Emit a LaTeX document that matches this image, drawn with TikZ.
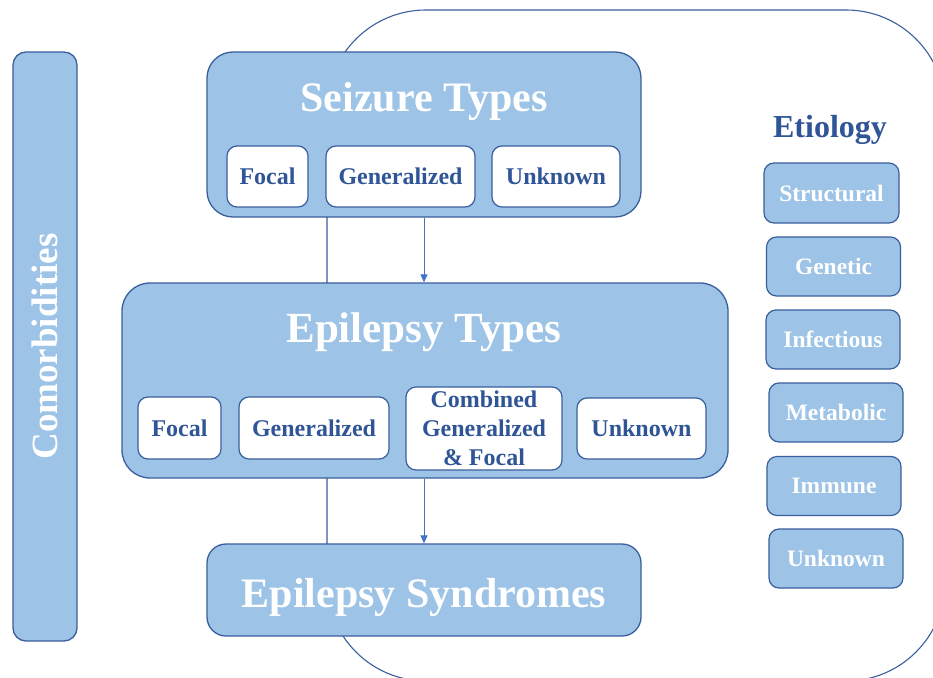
\documentclass[tikz,border=0pt]{standalone}
\usepackage{fontspec}
\setmainfont{Liberation Serif}
\usetikzlibrary{arrows.meta}

\definecolor{boxfill}{HTML}{9DC3E6}
\definecolor{boxline}{HTML}{3A5F9E}
\definecolor{darkblue}{HTML}{2F5597}
\definecolor{arrowblue}{HTML}{4472C4}

\tikzset{
  panel/.style={draw=boxline, line width=1.3pt, fill=boxfill, inner sep=0pt,
                rounded corners=#1},
  subbox/.style={draw=boxline, line width=1.2pt, fill=white, inner sep=0pt,
                 rounded corners=10pt, text=darkblue,
                 font=\fontsize{24}{29}\selectfont\bfseries, align=center},
  etiobox/.style={draw=boxline, line width=1.2pt, fill=boxfill, inner sep=0pt,
                  rounded corners=10pt, text=white,
                  minimum width=134pt, minimum height=59pt,
                  font=\fontsize{23.5}{28}\selectfont\bfseries},
  bigtitle/.style={text=white, inner sep=0pt, anchor=base,
                   font=\fontsize{43}{48}\selectfont\bfseries},
  frameline/.style={draw=boxline, line width=1.1pt, rounded corners=99pt},
  arrowlink/.style={draw=arrowblue, line width=1pt,
                    -{Triangle[width=7pt,length=8pt]}}
}

\begin{document}
\begin{tikzpicture}[x=1pt, y=-1pt]
  \useasboundingbox (0,0) rectangle (933,677);
  \clip (0,0) rectangle (933,677);
  \fill[white] (0,0) rectangle (933,677);

  % large rounded frame behind everything
  \draw[frameline] (327,10) rectangle (945,681);

  % comorbidities column
  \node[panel=13pt, minimum width=64pt, minimum height=589pt] (comorb) at (45,346.5) {};
  \node[rotate=90, text=white, inner sep=0pt,
        font=\fontsize{37}{40}\selectfont\bfseries] (comorbtext) at (comorb.center) {Comorbidities};

  % seizure types
  \node[panel=26pt, minimum width=434pt, minimum height=165pt] (seizure) at (424,134.5) {};
  \node[bigtitle, font=\fontsize{42}{46}\selectfont\bfseries] (seizuretitle) at (424,111) {Seizure Types};
  \node[subbox, minimum width=81pt, minimum height=61pt] (sfocal) at (267.5,176.5) {Focal};
  \node[subbox, minimum width=149pt, minimum height=61pt] (sgen) at (400.5,176.5) {Generalized};
  \node[subbox, minimum width=128pt, minimum height=61pt] (sunk) at (556,176.5) {Unknown};

  % epilepsy types
  \node[panel=28pt, minimum width=606pt, minimum height=195pt] (epi) at (425,380.5) {};
  \node[bigtitle] (epititle) at (424,342) {Epilepsy Types};
  \node[subbox, minimum width=83pt, minimum height=62pt] (efocal) at (179.5,428) {Focal};
  \node[subbox, minimum width=150pt, minimum height=62pt] (egen) at (314,428) {Generalized};
  \node[subbox, minimum width=156pt, minimum height=83pt] (ecomb) at (484,428.5) {Combined\\Generalized\\\& Focal};
  \node[subbox, minimum width=129pt, minimum height=61pt] (eunk) at (641.5,428.5) {Unknown};

  % epilepsy syndromes
  \node[panel=19pt, minimum width=434pt, minimum height=92pt] (synd) at (424,590) {};
  \node[bigtitle, font=\fontsize{42}{46}\selectfont\bfseries] (syndtitle) at (424,607) {Epilepsy Syndromes};

  % arrows between the levels
  \draw[arrowlink] (seizure.south) -- (epi.north -| seizure.south);
  \draw[arrowlink] (epi.south -| seizure.south) -- (synd.north);

  % etiology
  \node[text=darkblue, inner sep=0pt, anchor=base,
        font=\fontsize{32}{36}\selectfont\bfseries] (etiotitle) at (830,137) {Etiology};
  \node[etiobox, minimum width=135pt, minimum height=60pt] (estruct) at (831.5,193) {Structural};
  \node[etiobox] (egenetic) at (833.5,266.5) {Genetic};
  \node[etiobox] (einfect) at (833,339.5) {Infectious};
  \node[etiobox] (emetab) at (836,412.5) {Metabolic};
  \node[etiobox] (eimmune) at (834,486) {Immune};
  \node[etiobox] (eunknown) at (836,558.5) {Unknown};
\end{tikzpicture}
\end{document}
